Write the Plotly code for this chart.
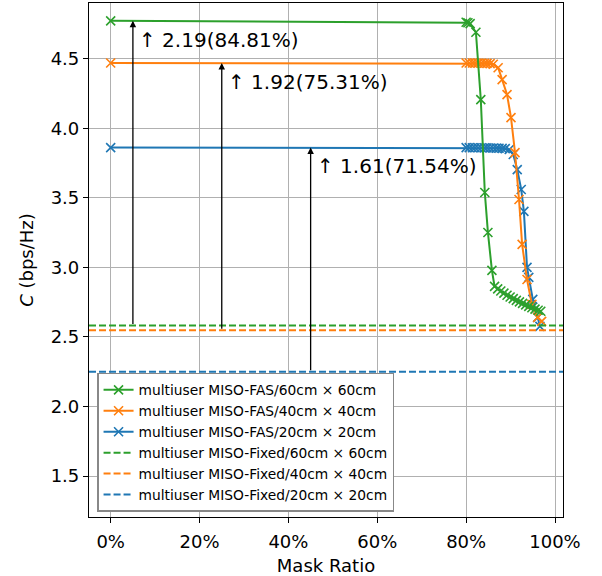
import plotly.graph_objects as go

# ---------------- data ----------------
green_x = [0, 0.800, 0.804, 0.809, 0.822, 0.833, 0.842, 0.849, 0.858, 0.864,
           0.871, 0.878, 0.885, 0.892, 0.899, 0.906, 0.913, 0.920, 0.927, 0.934,
           0.941, 0.948, 0.955, 0.962, 0.968]
green_y = [4.772, 4.762, 4.758, 4.752, 4.690, 4.206, 3.538, 3.251, 2.978, 2.863,
           2.845, 2.830, 2.815, 2.800, 2.787, 2.775, 2.763, 2.752, 2.741, 2.730,
           2.720, 2.710, 2.700, 2.692, 2.685]

orange_x = [0, 0.800, 0.807, 0.814, 0.820, 0.827, 0.834, 0.841, 0.847, 0.854, 0.861,
            0.872, 0.881, 0.892, 0.901, 0.910, 0.919, 0.926, 0.937, 0.948, 0.961, 0.970]
orange_y = [4.469, 4.469, 4.469, 4.469, 4.468, 4.468, 4.468, 4.467, 4.466, 4.464, 4.460,
            4.435, 4.349, 4.242, 4.076, 3.825, 3.488, 3.165, 2.913, 2.734, 2.641, 2.612]

blue_x = [0, 0.800, 0.807, 0.814, 0.820, 0.827, 0.834, 0.841, 0.847, 0.854, 0.861,
          0.868, 0.874, 0.881, 0.888, 0.897, 0.906, 0.915, 0.924, 0.930, 0.937,
          0.941, 0.950, 0.961, 0.966]
blue_y = [3.861, 3.861, 3.861, 3.860, 3.860, 3.860, 3.860, 3.859, 3.859, 3.858, 3.858,
          3.857, 3.856, 3.855, 3.853, 3.847, 3.811, 3.703, 3.560, 3.402, 3.000,
          2.928, 2.770, 2.641, 2.576]

fixed_green = 2.582
fixed_orange = 2.549
fixed_blue = 2.250

fas_names = ["multiuser MISO-FAS/60cm × 60cm",
             "multiuser MISO-FAS/40cm × 40cm",
             "multiuser MISO-FAS/20cm × 20cm"]
fixed_names = ["multiuser MISO-Fixed/60cm × 60cm",
               "multiuser MISO-Fixed/40cm × 40cm",
               "multiuser MISO-Fixed/20cm × 20cm"]

gain_labels = ["↑ 2.19(84.81%)", "↑ 1.92(75.31%)", "↑ 1.61(71.54%)"]
arrow_x = [0.05, 0.25, 0.45]

x_ticks = [0, 0.2, 0.4, 0.6, 0.8, 1.0]
y_ticks = [1.5, 2.0, 2.5, 3.0, 3.5, 4.0, 4.5]

x_range = [-0.0488, 1.018]
y_range = [1.206, 4.90]

GREEN, ORANGE, BLUE = "#2ca02c", "#ff7f0e", "#1f77b4"
FONT = "DejaVu Sans"

fig = go.Figure()

# draw order: blue, orange, green (green on top); legend order via legendrank
fas = [(blue_x, blue_y, BLUE, fas_names[2], 3),
       (orange_x, orange_y, ORANGE, fas_names[1], 2),
       (green_x, green_y, GREEN, fas_names[0], 1)]
for xs, ys, col, nm, rk in fas:
    fig.add_trace(go.Scatter(
        x=xs, y=ys, mode="lines+markers", name=nm, legendrank=rk,
        line=dict(color=col, width=2),
        marker=dict(symbol="x-thin", size=9, line=dict(color=col, width=1.6)),
    ))

fixed = [(fixed_green, GREEN, fixed_names[0], 4),
         (fixed_orange, ORANGE, fixed_names[1], 5),
         (fixed_blue, BLUE, fixed_names[2], 6)]
for val, col, nm, rk in fixed:
    fig.add_trace(go.Scatter(
        x=x_range, y=[val, val], mode="lines", name=nm, legendrank=rk,
        line=dict(color=col, width=2, dash="7px,3px"),
    ))

tops = [green_y[0], orange_y[0], blue_y[0]]
bottoms = [fixed_green, fixed_orange, fixed_blue]
for ax_, top, bot, lab in zip(arrow_x, tops, bottoms, gain_labels):
    fig.add_annotation(x=ax_, y=top, ax=ax_, ay=bot, xref="x", yref="y",
                       axref="x", ayref="y", text="", showarrow=True,
                       arrowhead=2, arrowsize=1, arrowwidth=1.3, arrowcolor="black")
    fig.add_annotation(x=ax_ + 0.010, y=top - 0.135, xref="x", yref="y",
                       text=lab, showarrow=False, xanchor="left", yanchor="middle",
                       font=dict(family=FONT, size=20, color="black"))

fig.update_layout(
    width=602, height=576,
    margin=dict(l=89, r=39, t=3, b=59),
    paper_bgcolor="white", plot_bgcolor="white",
    font=dict(family=FONT, size=18, color="black"),
    showlegend=True,
    legend=dict(x=0.017, y=0.01, xanchor="left", yanchor="bottom",
                bgcolor="white", bordercolor="#888888", borderwidth=1.5,
                font=dict(family=FONT, size=13.8, color="black"),
                tracegroupgap=0, itemwidth=30),
)
fig.update_xaxes(range=x_range, tickvals=x_ticks, tickformat=".0%",
                 showgrid=True, gridcolor="#b0b0b0", gridwidth=1,
                 showline=True, linecolor="black", linewidth=1.2, mirror=True,
                 ticks="outside", ticklen=5, tickcolor="black", zeroline=False,
                 ticklabelstandoff=3,
                 title=dict(text="Mask Ratio", font=dict(size=18), standoff=8))
fig.update_yaxes(range=y_range, tickvals=y_ticks, tickformat=".1f",
                 showgrid=True, gridcolor="#b0b0b0", gridwidth=1,
                 showline=True, linecolor="black", linewidth=1.2, mirror=True,
                 ticks="outside", ticklen=5, tickcolor="black", zeroline=False,
                 title=dict(text="<i>C</i> (bps/Hz)", font=dict(size=18), standoff=12))

fig.write_html("out.html")
